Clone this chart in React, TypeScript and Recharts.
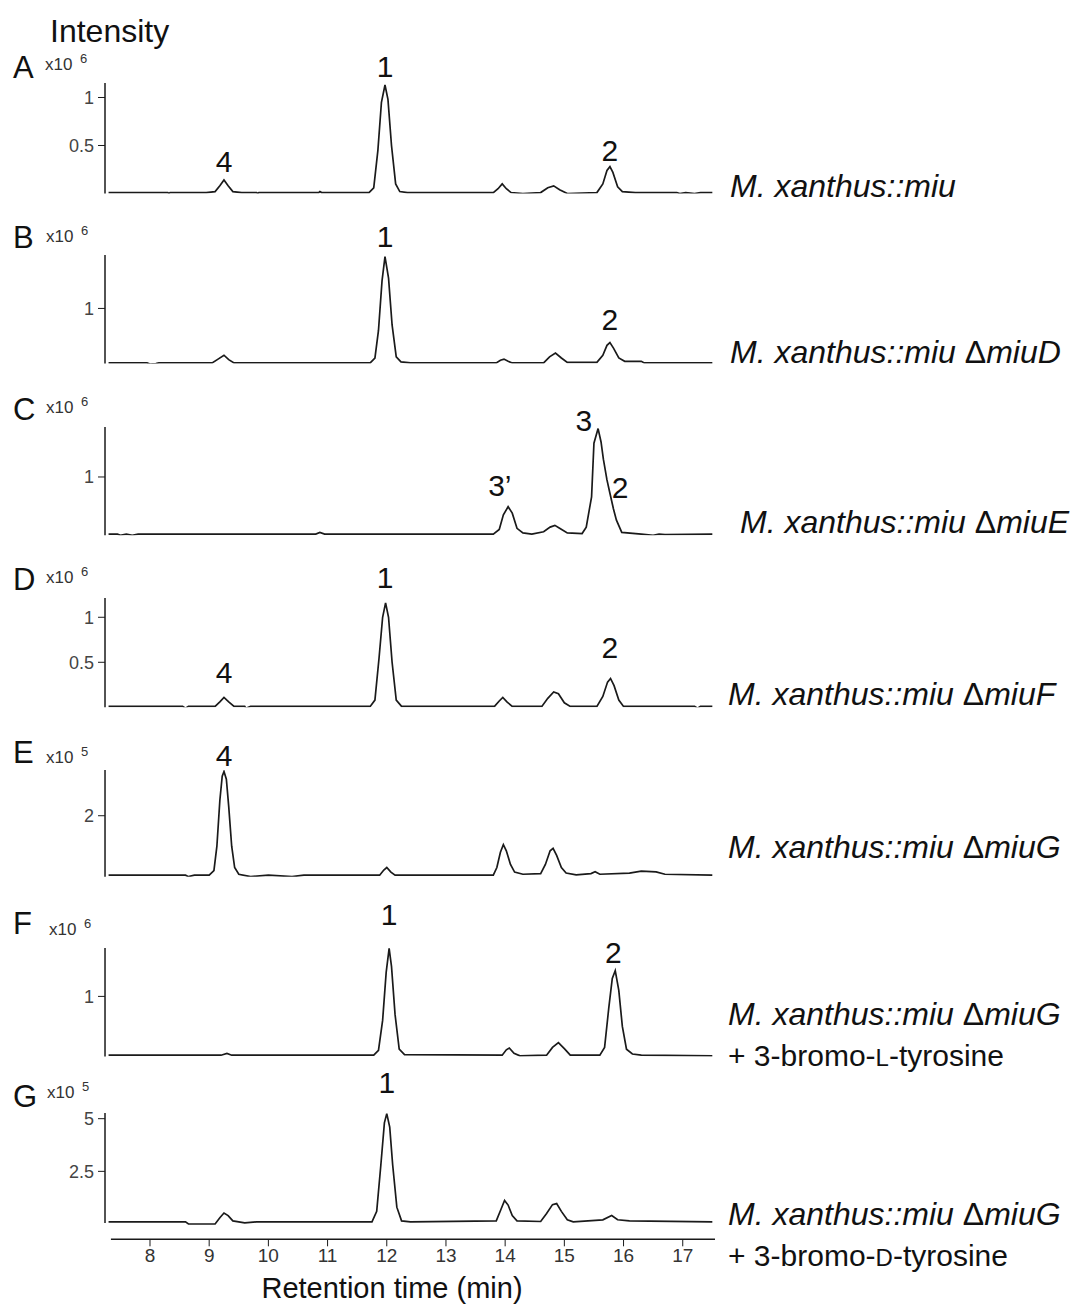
import React from 'react';
import { LineChart, Line, XAxis, YAxis, ReferenceDot, ReferenceLine } from 'recharts';

// retention time axis shared by all traces
const X_DOMAIN: [number, number] = [7.24, 17.545];
const X_TICKS = [8, 9, 10, 11, 12, 13, 14, 15, 16, 17];

// [time (min), intensity]
const traceA = [
  [7.3, 0.01], [8.3, 0.01], [8.32, 0.0], [8.34, 0.01], [8.95, 0.01], [9.1, 0.02], [9.18, 0.08], [9.25, 0.14], [9.32, 0.08], [9.4, 0.02],
  [9.55, 0.01], [9.8, 0.01], [9.82, 0.0], [9.84, 0.01], [10.85, 0.01], [10.87, 0.02], [10.9, 0.01], [11.7, 0.01], [11.78, 0.06],
  [11.85, 0.45], [11.91, 0.95], [11.97, 1.13], [12.02, 0.98], [12.08, 0.5], [12.15, 0.1], [12.22, 0.02], [12.35, 0.01],
  [13.8, 0.01], [13.88, 0.05], [13.95, 0.1], [14.02, 0.05], [14.1, 0.01], [14.3, 0.0], [14.6, 0.01], [14.72, 0.06],
  [14.82, 0.08], [14.92, 0.04], [15.05, 0.0], [15.55, 0.01], [15.65, 0.1], [15.72, 0.24], [15.77, 0.28], [15.82, 0.22],
  [15.9, 0.07], [15.98, 0.02], [16.2, 0.01], [16.9, 0.01], [16.95, 0.0], [17.05, 0.01], [17.2, 0.0], [17.3, 0.01], [17.5, 0.01],
];
const traceB = [
  [7.3, 0.01], [7.95, 0.01], [8.0, -0.01], [8.1, 0.0], [8.15, 0.01], [9.05, 0.01], [9.15, 0.08], [9.25, 0.15], [9.33, 0.07],
  [9.42, 0.01], [11.72, 0.01], [11.8, 0.1], [11.86, 0.6], [11.92, 1.5], [11.97, 1.94], [12.03, 1.55], [12.09, 0.7],
  [12.16, 0.12], [12.24, 0.03], [12.4, 0.01], [13.85, 0.01], [13.92, 0.06], [13.98, 0.08], [14.05, 0.04], [14.12, 0.01],
  [14.65, 0.01], [14.75, 0.12], [14.85, 0.19], [14.95, 0.1], [15.05, 0.02], [15.55, 0.02], [15.65, 0.15], [15.72, 0.33],
  [15.77, 0.38], [15.83, 0.28], [15.92, 0.1], [16.02, 0.04], [16.3, 0.04], [16.35, 0.01], [17.5, 0.01],
];
const traceC = [
  [7.3, 0.02], [7.45, 0.02], [7.5, 0.0], [7.6, 0.02], [7.7, 0.0], [7.8, 0.02], [10.8, 0.02], [10.87, 0.05], [10.95, 0.02],
  [13.8, 0.02], [13.9, 0.1], [13.97, 0.35], [14.05, 0.49], [14.12, 0.38], [14.2, 0.12], [14.3, 0.04], [14.45, 0.02],
  [14.65, 0.06], [14.76, 0.14], [14.84, 0.17], [14.92, 0.12], [15.05, 0.04], [15.3, 0.03], [15.37, 0.14], [15.46, 0.66],
  [15.5, 1.58], [15.57, 1.83], [15.62, 1.6], [15.66, 1.3], [15.72, 0.95], [15.77, 0.72], [15.83, 0.45], [15.88, 0.26],
  [15.97, 0.05], [16.3, 0.02], [16.5, 0.0], [16.6, 0.02], [16.7, 0.01], [17.5, 0.02],
];
const traceD = [
  [7.3, 0.01], [8.55, 0.01], [8.6, -0.01], [8.65, 0.01], [9.1, 0.01], [9.18, 0.06], [9.25, 0.11], [9.33, 0.06], [9.42, 0.01],
  [9.6, 0.01], [9.62, -0.01], [9.7, 0.01], [11.72, 0.01], [11.8, 0.08], [11.87, 0.55], [11.93, 1.0], [11.98, 1.16],
  [12.03, 1.0], [12.09, 0.5], [12.16, 0.08], [12.25, 0.01], [13.82, 0.01], [13.9, 0.07], [13.96, 0.11], [14.03, 0.06],
  [14.12, 0.01], [14.62, 0.01], [14.72, 0.1], [14.82, 0.17], [14.9, 0.15], [15.0, 0.05], [15.1, 0.01], [15.55, 0.01],
  [15.65, 0.12], [15.73, 0.28], [15.78, 0.32], [15.84, 0.24], [15.92, 0.08], [16.0, 0.01], [17.2, 0.01], [17.25, -0.01],
  [17.3, 0.01], [17.5, 0.01],
];
const traceE = [
  [7.3, 0.05], [8.6, 0.05], [8.65, 0.0], [8.75, 0.05], [9.0, 0.05], [9.08, 0.2], [9.13, 1.0], [9.18, 2.5], [9.22, 3.3],
  [9.25, 3.45], [9.29, 3.2], [9.33, 2.3], [9.38, 1.0], [9.43, 0.3], [9.5, 0.08], [9.7, 0.0], [10.0, 0.05], [10.4, 0.0],
  [10.6, 0.05], [11.88, 0.05], [11.95, 0.22], [12.0, 0.3], [12.07, 0.15], [12.14, 0.05], [13.8, 0.05], [13.86, 0.3],
  [13.92, 0.8], [13.97, 1.05], [14.02, 0.85], [14.09, 0.4], [14.16, 0.15], [14.3, 0.08], [14.6, 0.1], [14.68, 0.4],
  [14.76, 0.85], [14.81, 0.93], [14.87, 0.7], [14.95, 0.3], [15.03, 0.12], [15.2, 0.06], [15.45, 0.1], [15.52, 0.16],
  [15.6, 0.08], [16.1, 0.12], [16.3, 0.18], [16.55, 0.16], [16.7, 0.08], [17.5, 0.05],
];
const traceF = [
  [7.3, 0.02], [9.2, 0.02], [9.3, 0.05], [9.38, 0.02], [11.78, 0.02], [11.86, 0.1], [11.93, 0.6], [11.99, 1.4],
  [12.04, 1.8], [12.08, 1.5], [12.14, 0.7], [12.21, 0.12], [12.3, 0.03], [13.95, 0.02], [14.02, 0.11], [14.07, 0.14],
  [14.15, 0.05], [14.25, 0.01], [14.7, 0.02], [14.8, 0.15], [14.9, 0.23], [15.0, 0.13], [15.1, 0.02], [15.6, 0.02],
  [15.68, 0.15], [15.75, 0.8], [15.81, 1.3], [15.86, 1.43], [15.92, 1.1], [15.98, 0.5], [16.05, 0.12], [16.15, 0.04],
  [16.3, 0.02], [17.5, 0.01],
];
const traceG = [
  [7.3, 0.1], [8.6, 0.1], [8.65, 0.0], [9.1, 0.0], [9.18, 0.3], [9.25, 0.52], [9.32, 0.4], [9.4, 0.15], [9.6, 0.05],
  [9.8, 0.1], [11.75, 0.1], [11.83, 0.6], [11.9, 2.8], [11.96, 4.8], [12.0, 5.24], [12.05, 4.6], [12.1, 2.8], [12.17, 0.8],
  [12.25, 0.15], [12.4, 0.1], [13.85, 0.15], [13.93, 0.7], [13.99, 1.12], [14.05, 0.9], [14.12, 0.4], [14.2, 0.15],
  [14.6, 0.12], [14.7, 0.5], [14.8, 0.92], [14.87, 0.97], [14.95, 0.6], [15.05, 0.2], [15.15, 0.1], [15.65, 0.2],
  [15.8, 0.4], [15.9, 0.2], [16.1, 0.15], [17.5, 0.1],
];

// peak numbers: [time, intensity, text]
const labelsA = [[9.25, 0.33, '4'], [11.97, 1.32, '1'], [15.77, 0.45, '2']];
const labelsB = [[11.97, 2.3, '1'], [15.77, 0.81, '2']];
const labelsC = [[13.91, 0.86, '3\u2019'], [15.33, 1.97, '3'], [15.94, 0.82, '2']];
const labelsD = [[11.97, 1.44, '1'], [9.25, 0.39, '4'], [15.77, 0.67, '2']];
const labelsE = [[9.25, 3.99, '4']];
const labelsF = [[12.04, 2.36, '1'], [15.83, 1.73, '2']];
const labelsG = [[12.0, 6.74, '1']];

const panels = [
  { id: 'A', trace: traceA, labels: labelsA, top: 83, bottom: 193.5, domain: [0, 1.151], ticks: [0.5, 1], exp: '6' },
  { id: 'B', trace: traceB, labels: labelsB, top: 255, bottom: 363.5, domain: [0, 1.97], ticks: [1], exp: '6' },
  { id: 'C', trace: traceC, labels: labelsC, top: 426.7, bottom: 535, domain: [0, 1.857], ticks: [1], exp: '6' },
  { id: 'D', trace: traceD, labels: labelsD, top: 598, bottom: 707.3, domain: [0, 1.214], ticks: [0.5, 1], exp: '6' },
  { id: 'E', trace: traceE, labels: labelsE, top: 770, bottom: 876.7, domain: [0, 3.5], ticks: [2], exp: '5' },
  { id: 'F', trace: traceF, labels: labelsF, top: 948.3, bottom: 1056.7, domain: [0, 1.807], ticks: [1], exp: '6' },
  { id: 'G', trace: traceG, labels: labelsG, top: 1112.7, bottom: 1239, domain: [-0.726, 5.27], ticks: [2.5, 5], exp: '5' },
];

const FONT = '"Liberation Sans", Arial, Helvetica, sans-serif';
const INK = '#1a1a1a';
const PAD_TOP = 50;
const CHART_W = 730;

function Panel({ p, last }: { p: any; last: boolean }) {
  const axisH = last ? 45 : 0;
  const h = PAD_TOP + (p.bottom - p.top) + axisH + 2;
  const data = p.trace.map(([t, v]: number[]) => ({ t, v }));
  return (
    <div style={{ position: 'absolute', left: 0, top: p.top - PAD_TOP }}>
      <LineChart width={CHART_W} height={h} data={data} margin={{ top: PAD_TOP, right: 15, bottom: 2, left: 60 }}>
        <XAxis
          type="number"
          dataKey="t"
          domain={X_DOMAIN}
          allowDataOverflow
          hide={!last}
          ticks={X_TICKS}
          height={axisH}
          axisLine={false}
          stroke={INK}
          tickSize={7}
          tick={{ fontSize: 19, fill: '#333', fontFamily: FONT }}
        />
        <YAxis
          type="number"
          domain={p.domain}
          allowDataOverflow
          ticks={p.ticks}
          width={45}
          stroke={INK}
          axisLine={last ? false : { strokeWidth: 1.5 }}
          tickSize={7}
          tickMargin={4}
          tick={{ fontSize: 18, fill: '#444', fontFamily: FONT }}
        />
        {last && (
          <ReferenceLine
            segment={[{ x: X_DOMAIN[0], y: 0.05 }, { x: X_DOMAIN[0], y: p.domain[1] }]}
            stroke={INK}
            strokeWidth={1.5}
            ifOverflow="visible"
          />
        )}
        {last && (
          <ReferenceLine
            segment={[{ x: 7.34, y: p.domain[0] }, { x: X_DOMAIN[1], y: p.domain[0] }]}
            stroke={INK}
            strokeWidth={1.5}
            ifOverflow="visible"
          />
        )}
        <Line dataKey="v" type="linear" stroke={INK} strokeWidth={1.7} dot={false} isAnimationActive={false} />
        {p.labels.map((l: any[], i: number) => (
          <ReferenceDot
            key={i}
            x={l[0]}
            y={l[1]}
            r={0}
            fill="none"
            stroke="none"
            ifOverflow="visible"
            label={{ value: l[2], position: 'center', fontSize: 30, fill: '#111', fontFamily: FONT }}
          />
        ))}
      </LineChart>
    </div>
  );
}

// panel letter / multiplier anchors: [letter baseline, multiplier baseline, multiplier x]
const letterPos = [[78, 70, 45], [248, 242, 46], [420, 413, 46], [590, 583, 46], [763, 763, 46], [934, 935, 49], [1107, 1098, 47]];

// strain labels on the right: [x, baseline, mutant gene, tyrosine isomer]
const strainLabels: [number, number, string, string][] = [
  [730, 197, '', ''],
  [730, 363, 'D', ''],
  [740, 533, 'E', ''],
  [728, 705, 'F', ''],
  [728, 858, 'G', ''],
  [728, 1025, 'G', 'L'],
  [728, 1225, 'G', 'D'],
];

function Overlay() {
  return (
    <svg width={1086} height={1311} style={{ position: 'absolute', left: 0, top: 0, pointerEvents: 'none' }} fontFamily={FONT}>
      <text x={50} y={42} fontSize={32} fill="#111">Intensity</text>
      {panels.map((p, i) => {
        const [ly, my, mx] = letterPos[i];
        return (
          <g key={p.id}>
            <text x={13} y={ly} fontSize={31} fill="#111">{p.id}</text>
            <text x={mx} y={my} fontSize={17} fill="#333">x10</text>
            <text x={mx + 35} y={my - 7} fontSize={13} fill="#333">{p.exp}</text>
          </g>
        );
      })}
      {strainLabels.map(([x, y, mutant, iso], i) => (
        <g key={i} fill="#111">
          <text x={x} y={y} fontSize={32}>
            <tspan fontStyle="italic">M. xanthus::miu</tspan>
            {mutant && <tspan> Δ</tspan>}
            {mutant && <tspan fontStyle="italic">miu{mutant}</tspan>}
          </text>
          {iso && (
            <text x={x} y={y + 41} fontSize={30}>
              + 3-bromo-<tspan fontSize={24}>{iso}</tspan>-tyrosine
            </text>
          )}
        </g>
      ))}
      <text x={392} y={1298} fontSize={29} fill="#111" textAnchor="middle">Retention time (min)</text>
    </svg>
  );
}

export default function App() {
  return (
    <div style={{ position: 'absolute', left: 0, top: 0, width: 1086, height: 1311, background: '#fff', fontFamily: FONT }}>
      {panels.map((p, i) => (
        <Panel key={p.id} p={p} last={i === panels.length - 1} />
      ))}
      <Overlay />
    </div>
  );
}
